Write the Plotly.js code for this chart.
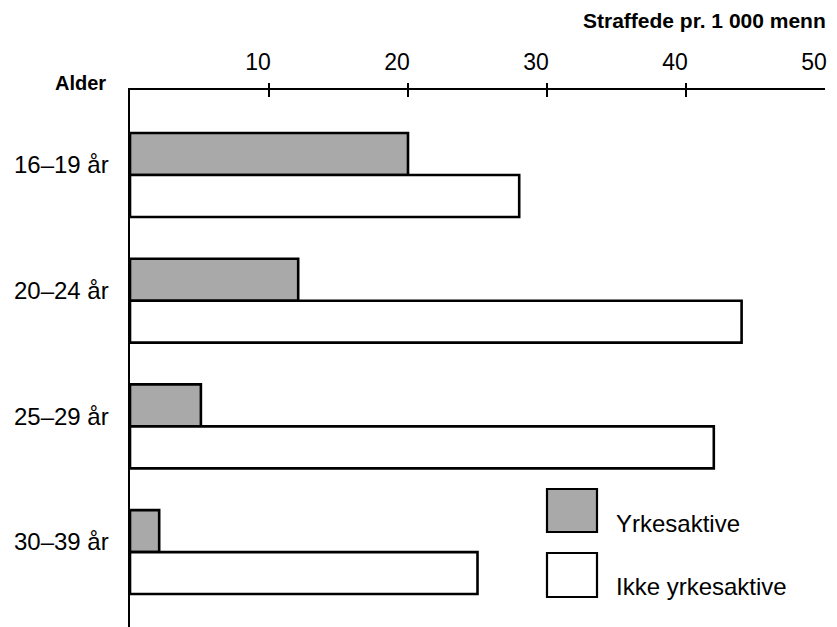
<!DOCTYPE html>
<html>
<head>
<meta charset="utf-8">
<script src="https://cdn.plot.ly/plotly-3.0.1.min.js"></script>
<style>html,body{margin:0;padding:0;background:#fff;}</style>
</head>
<body>
<div id="chart" style="width:837px;height:627px;"></div>
<script>
const categories = ["16–19 år", "20–24 år", "25–29 år", "30–39 år"];
const yrkesaktive = [20.0, 12.1, 5.1, 2.1];
const ikkeYrkesaktive = [28.0, 44.0, 42.0, 25.0];
const seriesNames = ["Yrkesaktive", "Ikke yrkesaktive"];
const tickValues = [10, 20, 30, 40, 50];
const tickMarkValues = [10, 20, 30, 40];
const xTitle = "Straffede pr. 1 000 menn";
const yTitle = "Alder";

const W = 837, H = 627, L = 130, R = 12, T = 90, B = 0;
const pw = W - L - R, ph = H - T - B;
const px = x => (x - L) / pw;
const py = y => (H - B - y) / ph;

const FONT = "Liberation Sans, Arial, Helvetica, sans-serif";
const grey = "#a9a9a9";

const traces = [
  {
    type: "bar", orientation: "h", name: seriesNames[0],
    y: categories, x: yrkesaktive,
    marker: {color: grey, line: {color: "#000", width: 2.6}},
    showlegend: false, hoverinfo: "x"
  },
  {
    type: "bar", orientation: "h", name: seriesNames[1],
    y: categories, x: ikkeYrkesaktive,
    marker: {color: "#fff", line: {color: "#000", width: 2.6}},
    showlegend: false, hoverinfo: "x"
  }
];

const tickShapes = tickMarkValues.map(v => ({
  type: "line", xref: "x", yref: "paper", ysizemode: "pixel", yanchor: 1,
  x0: v, x1: v, y0: -7, y1: 7,
  line: {color: "#000", width: 2}
}));

const layout = {
  width: W, height: H,
  margin: {l: L, r: R, t: T, b: B, pad: 0},
  paper_bgcolor: "#fff", plot_bgcolor: "#fff",
  font: {family: FONT, color: "#000", size: 23},
  barmode: "group", bargap: 0.332, bargroupgap: 0,
  xaxis: {
    side: "top", range: [0, 50], tickvals: tickValues,
    ticks: "", showgrid: false, zeroline: false,
    showline: true, linecolor: "#000", linewidth: 2.5,
    tickfont: {size: 23, family: FONT}, ticklabelshift: -11, ticklabelstandoff: 8,
    fixedrange: true
  },
  yaxis: {
    type: "category", range: [3.596, -0.676],
    ticks: "", showgrid: false, zeroline: false,
    showline: true, linecolor: "#000", linewidth: 2.5,
    tickfont: {size: 24, family: FONT}, ticklabelstandoff: 14, ticklabelshift: 10,
    fixedrange: true
  },
  shapes: tickShapes.concat([
    {type: "rect", xref: "paper", yref: "paper",
     x0: px(547), x1: px(597), y0: py(532), y1: py(489),
     fillcolor: grey, line: {color: "#000", width: 2.2}},
    {type: "rect", xref: "paper", yref: "paper",
     x0: px(547), x1: px(597), y0: py(597), y1: py(553),
     fillcolor: "#fff", line: {color: "#000", width: 2.2}}
  ]),
  annotations: [
    {text: seriesNames[0], xref: "paper", yref: "paper", x: px(614), y: py(523),
     xanchor: "left", yanchor: "middle", showarrow: false, font: {size: 24, family: FONT}},
    {text: seriesNames[1], xref: "paper", yref: "paper", x: px(614), y: py(586),
     xanchor: "left", yanchor: "middle", showarrow: false, font: {size: 24, family: FONT}},
    {text: "<b>" + xTitle + "</b>", xref: "paper", yref: "paper", x: px(828), y: py(20),
     xanchor: "right", yanchor: "middle", showarrow: false, font: {size: 21, family: FONT}},
    {text: "<b>" + yTitle + "</b>", xref: "paper", yref: "paper", x: px(108), y: py(83),
     xanchor: "right", yanchor: "middle", showarrow: false, font: {size: 20, family: FONT}}
  ]
};

Plotly.newPlot("chart", traces, layout, {displayModeBar: false, staticPlot: true});
</script>
</body>
</html>
